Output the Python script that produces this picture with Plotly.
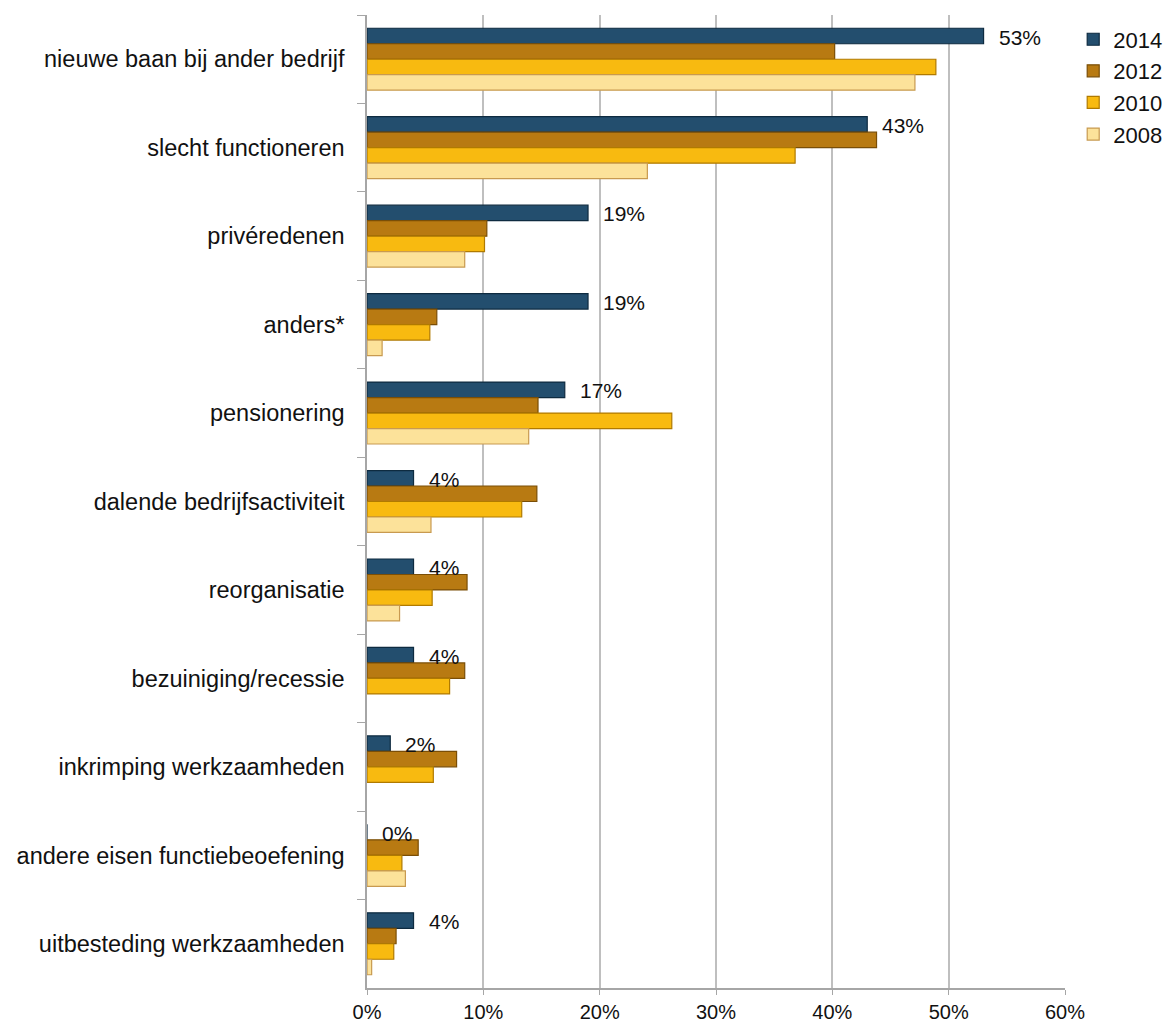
import plotly.graph_objects as go

# Reasons for leaving, share of respondents per survey year
categories = [
    "nieuwe baan bij ander bedrijf",
    "slecht functioneren",
    "privéredenen",
    "anders*",
    "pensionering",
    "dalende bedrijfsactiviteit",
    "reorganisatie",
    "bezuiniging/recessie",
    "inkrimping werkzaamheden",
    "andere eisen functiebeoefening",
    "uitbesteding werkzaamheden",
]

years = ["2014", "2012", "2010", "2008"]

values_2014 = [53, 43, 19, 19, 17, 4, 4, 4, 2, 0, 4]
values_2012 = [40.2, 43.8, 10.3, 6.0, 14.7, 14.6, 8.6, 8.4, 7.7, 4.4, 2.5]
values_2010 = [48.9, 36.8, 10.1, 5.4, 26.2, 13.3, 5.6, 7.1, 5.7, 3.0, 2.3]
values_2008 = [47.1, 24.1, 8.4, 1.3, 13.9, 5.5, 2.8, None, None, 3.3, 0.4]

series = [values_2014, values_2012, values_2010, values_2008]

fill_colors = ["#234E6E", "#B87A12", "#F8BA10", "#FCE29A"]
edge_colors = ["#0E2B40", "#7A4E06", "#B07A00", "#C89A50"]

x_ticks = [0, 10, 20, 30, 40, 50, 60]
x_tick_text = [f"{t}%" for t in x_ticks]

FONT = "Arial, Liberation Sans, sans-serif"

fig = go.Figure()
for i, (year, vals) in enumerate(zip(years, series)):
    fig.add_trace(
        go.Bar(
            name=year,
            y=categories,
            x=vals,
            orientation="h",
            marker=dict(color=fill_colors[i], line=dict(color=edge_colors[i], width=1.2)),
            legendgroup=year,
            hoverinfo="x+y+name",
        )
    )

# Value labels on the 2014 bars (top bar of each group)
bargap = 0.3
n_series = len(years)
bar_w = (1 - bargap) / n_series
offset_2014 = -(1 - bargap) / 2 + bar_w / 2
for idx, v in enumerate(values_2014):
    fig.add_annotation(
        x=v,
        y=idx + offset_2014,
        xref="x",
        yref="y",
        text=f"{v:.0f}%",
        showarrow=False,
        xanchor="left",
        yanchor="middle",
        xshift=13,
        yshift=-1,
        font=dict(family=FONT, size=21, color="#111111"),
    )

fig.update_layout(
    width=1164,
    height=1025,
    margin=dict(l=367, r=99, t=15, b=37, autoexpand=False),
    paper_bgcolor="white",
    plot_bgcolor="white",
    barmode="group",
    bargap=bargap,
    bargroupgap=0,
    font=dict(family=FONT, size=21, color="#111111"),
    legend=dict(
        xref="container",
        yref="container",
        x=0.922,
        xanchor="left",
        y=0.982,
        yanchor="top",
        traceorder="normal",
        tracegroupgap=25,
        font=dict(family=FONT, size=22, color="#111111"),
        bgcolor="rgba(0,0,0,0)",
        itemwidth=30,
    ),
    showlegend=True,
)

fig.update_xaxes(
    range=[0, 60],
    tickvals=x_ticks,
    ticktext=x_tick_text,
    showgrid=True,
    gridcolor="#BFBFBF",
    gridwidth=1.5,
    zeroline=False,
    showline=True,
    linecolor="#A6A6A6",
    linewidth=1.5,
    ticks="outside",
    ticklen=5,
    tickcolor="#A6A6A6",
    tickfont=dict(family=FONT, size=20, color="#111111"),
)

fig.update_yaxes(
    autorange="reversed",
    showline=True,
    linecolor="#A6A6A6",
    linewidth=1.5,
    ticks="outside",
    tickson="boundaries",
    ticklen=8,
    tickcolor="#A6A6A6",
    showgrid=False,
    ticklabelstandoff=16,
    tickfont=dict(family=FONT, size=23.5, color="#111111"),
)

fig.write_html("out.html")
